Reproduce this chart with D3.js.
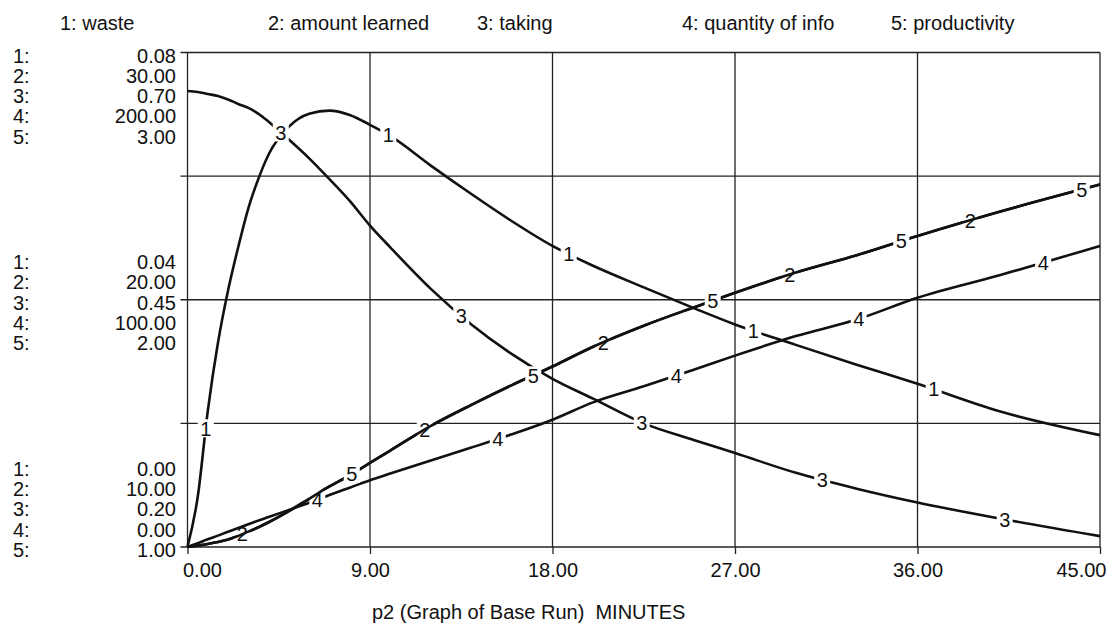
<!DOCTYPE html>
<html>
<head>
<meta charset="utf-8">
<script src="https://cdn.jsdelivr.net/npm/d3@7"></script>
<style>
  body { margin: 0; background: #fff; }
  text { font-family: "Liberation Sans", Arial, Helvetica, sans-serif; fill: #111; }
</style>
</head>
<body>
<svg id="chart" width="1109" height="623"></svg>
<script>
// time points (minutes) the curves were read at
const times = [0, 0.5, 1, 1.5, 2, 2.5, 3, 3.5, 4, 5, 6, 7, 8, 9, 10, 12, 14, 16, 18, 20, 22.5, 25, 27, 30, 33, 36, 40, 45]

// 1: waste
const waste = [0, 0.008, 0.022, 0.033, 0.0415, 0.0485, 0.0548, 0.0596, 0.0635, 0.068, 0.0701, 0.0706, 0.0699, 0.0683,
    0.0665, 0.0617, 0.0571, 0.0527, 0.0487, 0.0455, 0.0420, 0.0386, 0.036, 0.0327, 0.0295, 0.0264, 0.0220, 0.0181]
// 2: amount learned
const amountLearned = [10, 10.05, 10.12, 10.2, 10.3, 10.45, 10.62, 10.8, 11.0, 11.45, 11.95, 12.45, 12.9, 13.4,
    13.9, 14.9, 15.75, 16.55, 17.3, 18.1, 18.95, 19.7, 20.28, 21.1, 21.8, 22.58, 23.55, 24.66]
// 3: taking
const taking = [0.661, 0.66, 0.658, 0.656, 0.6525, 0.648, 0.644, 0.638, 0.63, 0.612, 0.593, 0.572, 0.55, 0.525,
    0.503, 0.461, 0.425, 0.395, 0.37, 0.35, 0.325, 0.308, 0.295, 0.275, 0.259, 0.245, 0.229, 0.211]
// 4: quantity of info
const quantityOfInfo = [0, 1.5, 3.1, 4.6, 6.2, 7.7, 9.2, 10.7, 12.1, 15, 17.9, 21, 24, 27,
    29.7, 35, 40.2, 45.6, 51.5, 58.5, 65, 71.8, 77.4, 85.3, 92, 100.8, 109.8, 121.8]
// 5: productivity
const productivity = [1, 1.005, 1.012, 1.02, 1.03, 1.045, 1.062, 1.08, 1.1, 1.145, 1.195, 1.245, 1.29, 1.34,
    1.39, 1.49, 1.575, 1.655, 1.73, 1.81, 1.895, 1.97, 2.028, 2.11, 2.18, 2.258, 2.355, 2.466]

const seriesNames = ['waste', 'amount learned', 'taking', 'quantity of info', 'productivity']
const seriesValues = [waste, amountLearned, taking, quantityOfInfo, productivity]
const seriesDomains = [[0, 0.08], [10, 30], [0.2, 0.7], [0, 200], [1, 3]]
// where the number tags sit on each curve (minutes)
const labelTimes = [
    [0.9, 9.9, 18.8, 27.9, 36.8],
    [2.7, 11.7, 20.5, 29.7, 38.6],
    [4.6, 13.5, 22.4, 31.3, 40.3],
    [6.4, 15.3, 24.1, 33.1, 42.2],
    [8.1, 17.05, 25.9, 35.2, 44.1]
]
const xTicks = [0, 9, 18, 27, 36, 45]

const plot = { left: 187.5, right: 1100, top: 52.5, bottom: 547 }
const legendX = [60, 268, 477, 682, 891]
const rowGap = 20.3

const svg = d3.select('#chart')

const xScale = d3.scaleLinear().domain([0, 45]).range([plot.left, plot.right])
const yScales = seriesDomains.map(d => d3.scaleLinear().domain(d).range([plot.bottom, plot.top]))
const yLevels = [plot.top, (plot.top * 3 + plot.bottom) / 4, (plot.top + plot.bottom) / 2,
    (plot.top + plot.bottom * 3) / 4, plot.bottom]

// Legend
svg.append('g').selectAll('text')
    .data(seriesNames)
    .join('text')
    .attr('x', (d, i) => legendX[i])
    .attr('y', 23)
    .attr('dy', '0.35em')
    .style('font-size', '20px')
    .text((d, i) => (i + 1) + ': ' + d)

// Grid
const grid = svg.append('g').attr('stroke', '#222').attr('stroke-width', 1.3)
yLevels.forEach(y => {
    grid.append('line').attr('x1', plot.left - 7).attr('x2', plot.right).attr('y1', y).attr('y2', y)
})
xTicks.forEach(t => {
    grid.append('line').attr('x1', xScale(t)).attr('x2', xScale(t)).attr('y1', plot.top).attr('y2', plot.bottom)
})

// X axis
const xAxis = svg.append('g')
    .attr('transform', 'translate(0,' + plot.bottom + ')')
    .call(d3.axisBottom(xScale).tickValues(xTicks).tickSize(7).tickPadding(9).tickFormat(d => d.toFixed(2)))
xAxis.select('.domain').remove()
xAxis.selectAll('line').attr('stroke', '#222').attr('stroke-width', 1.3)
xAxis.selectAll('text')
    .style('font-size', '20px')
    .attr('font-family', null)
    .attr('text-anchor', d => d == 0 ? 'start' : d == 45 ? 'end' : 'middle')
    .attr('dx', d => d == 0 ? -5 : d == 45 ? 6 : 0)

svg.append('text')
    .attr('x', 372)
    .attr('y', 612)
    .attr('dy', '0.35em')
    .style('font-size', '20px')
    .style('white-space', 'pre')
    .text('p2 (Graph of Base Run)  MINUTES')

// Left axis value blocks: top, middle, bottom
const blocks = [{ y: plot.top, anchor: 0 }, { y: yLevels[2], anchor: 2 }, { y: plot.bottom, anchor: 4 }]
const leftAxis = svg.append('g').style('font-size', '20px')
blocks.forEach(b => {
    yScales.forEach((s, i) => {
        let ty = b.y + 3 + (i - b.anchor) * rowGap
        leftAxis.append('text').attr('x', 13).attr('y', ty).attr('dy', '0.35em').text((i + 1) + ':')
        leftAxis.append('text').attr('x', 176).attr('y', ty).attr('dy', '0.35em')
            .attr('text-anchor', 'end')
            .text(s.invert(b.y).toFixed(2))
    })
})

// Curves with number tags
function valueAt(values, t) {
    let i = d3.bisectRight(times, t) - 1
    i = Math.max(0, Math.min(times.length - 2, i))
    let f = (t - times[i]) / (times[i + 1] - times[i])
    return values[i] + f * (values[i + 1] - values[i])
}

seriesValues.forEach((values, s) => {
    const line = d3.line()
        .x((d, i) => xScale(times[i]))
        .y(d => yScales[s](d))
        .curve(d3.curveMonotoneX)

    const g = svg.append('g').attr('class', 'series')
    g.append('path')
        .attr('d', line(values))
        .attr('fill', 'none')
        .attr('stroke', '#111')
        .attr('stroke-width', 2.6)

    const tags = g.selectAll('g.tag')
        .data(labelTimes[s])
        .join('g')
        .attr('class', 'tag')
        .attr('transform', t => 'translate(' + xScale(t) + ',' + yScales[s](valueAt(values, t)) + ')')
    tags.append('rect')
        .attr('x', -8).attr('y', -9).attr('width', 16).attr('height', 18)
        .attr('fill', '#fff')
    tags.append('text')
        .attr('text-anchor', 'middle')
        .attr('dy', '0.36em')
        .style('font-size', '20px')
        .text(s + 1)
})
</script>
</body>
</html>
